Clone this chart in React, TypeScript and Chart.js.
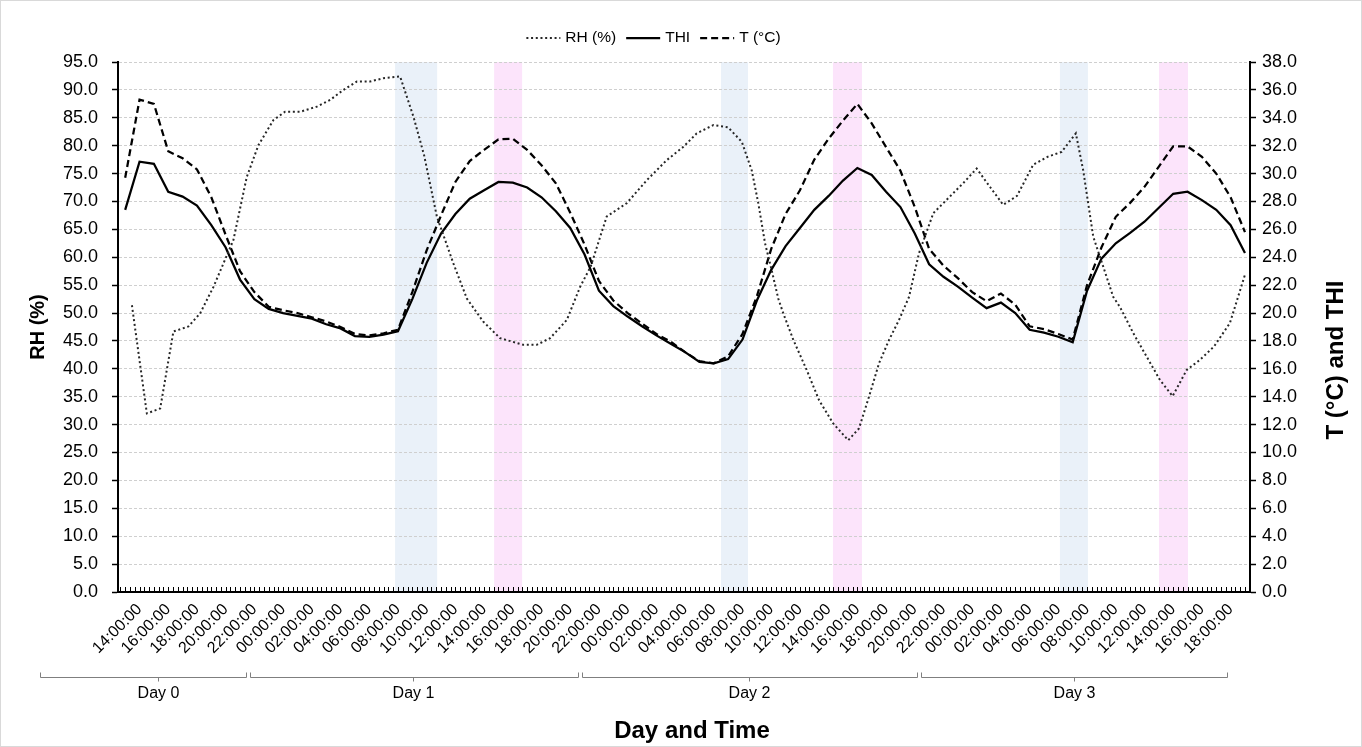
import React, { useEffect, useRef } from 'react';
import { Chart, registerables } from 'chart.js';

Chart.register(...registerables);

const FONT = 'Arial, "Liberation Sans", Helvetica, sans-serif';

// Time is counted in hours from Day 0 00:00
const hours = [
  13, 14, 15, 16, 17, 18, 19, 20, 21, 22, 23, 24, 25, 26, 27, 28, 29, 30, 31, 32,
  33, 34, 35, 36, 37, 38, 39, 40, 41, 42, 43, 44, 45, 46, 47, 48, 49, 50, 51, 52,
  53, 54, 55, 56, 57, 58, 59, 60, 61, 62, 63, 64, 65, 66, 67, 68, 69, 70, 71, 72,
  73, 74, 75, 76, 77, 78, 79, 80, 81, 82, 83, 84, 85, 86, 87, 88, 89, 90, 91,
];

const tValues = [
  29.7, 35.3, 35.0, 31.6, 31.1, 30.3, 28.3, 25.6, 23.0, 21.5,
  20.45, 20.2, 20.0, 19.7, 19.4, 19.0, 18.5, 18.4, 18.55, 18.8,
  21.5, 24.5, 27.0, 29.4, 30.9, 31.7, 32.45, 32.5, 31.7, 30.6,
  29.3, 27.2, 24.9, 22.3, 20.9, 20.0, 19.25, 18.5, 17.95, 17.2,
  16.55, 16.4, 16.9, 18.5, 21.2, 24.6, 27.1, 28.8, 31.0, 32.5,
  33.8, 35.0, 33.6, 31.9, 30.2, 27.6, 24.6, 23.4, 22.5, 21.5,
  20.85, 21.4, 20.6, 19.05, 18.85, 18.5, 18.1, 22.0, 24.7, 26.9,
  27.9, 29.05, 30.5, 31.95, 31.95, 31.2, 30.0, 28.3, 25.8,
];

const thiValues = [
  27.4, 30.85, 30.7, 28.7, 28.35, 27.7, 26.3, 24.7, 22.4, 21.0,
  20.3, 20.0, 19.8, 19.6, 19.2, 18.9, 18.35, 18.3, 18.45, 18.7,
  21.0, 23.6, 25.7, 27.1, 28.2, 28.8, 29.4, 29.35, 29.0, 28.3,
  27.3, 26.1, 24.2, 21.6, 20.5, 19.75, 19.05, 18.4, 17.8, 17.2,
  16.5, 16.4, 16.7, 18.1, 20.9, 23.1, 24.8, 26.1, 27.4, 28.4,
  29.5, 30.4, 29.9, 28.7, 27.6, 25.7, 23.5, 22.6, 21.9, 21.1,
  20.35, 20.75, 20.0, 18.8, 18.6, 18.3, 17.9, 21.6, 23.9, 25.0,
  25.75, 26.55, 27.55, 28.55, 28.7, 28.1, 27.4, 26.3, 24.3,
];

const rhTimes = [
  13.47, 14.51, 15.44, 16.36, 17.41, 18.22, 19.15, 20.54, 21.47, 22.28,
  23.33, 24.14, 25.22, 26.35, 27.28, 28.2, 29.14, 30.06, 30.99, 32.15,
  33.08, 33.82, 34.71, 35.86, 36.8, 37.93, 39.11, 40.74, 41.67, 42.6,
  43.76, 44.69, 45.42, 46.54, 47.94, 49.33, 50.72, 51.88, 52.81, 53.97,
  54.99, 55.95, 56.64, 57.1, 57.57, 58.03, 58.49, 58.84, 59.54, 60.47,
  61.33, 62.32, 63.37, 64.11, 64.81, 65.51, 66.21, 66.9, 67.6, 68.29,
  69.29, 70.45, 71.38, 72.31, 73.24, 74.16, 75.12, 76.25, 77.24, 78.23,
  79.22, 79.73, 80.43, 81.13, 81.82, 82.29, 83.22, 84.15, 85.08, 85.96,
  86.94, 87.86, 88.84, 89.95, 90.99,
];

const rhValues = [
  51.4, 32.0, 32.9, 46.7, 47.6, 49.95, 54.7, 63.1, 74.4, 80.1,
  84.6, 86.1, 86.1, 87.0, 88.2, 90.0, 91.5, 91.5, 92.1, 92.4,
  85.2, 78.3, 67.3, 58.9, 52.6, 48.5, 45.5, 44.3, 44.3, 45.5,
  48.75, 54.7, 58.3, 67.3, 69.7, 73.8, 77.4, 79.8, 82.2, 83.7,
  83.3, 80.7, 75.6, 69.7, 62.5, 57.7, 52.6, 49.95, 45.2, 39.8,
  34.4, 30.2, 27.2, 29.3, 35.0, 41.0, 45.2, 48.75, 52.9, 60.7,
  67.9, 70.9, 73.3, 75.9, 72.6, 69.4, 71.0, 76.6, 78.0, 78.9,
  82.2, 75.6, 63.7, 58.3, 52.9, 51.1, 46.4, 42.2, 38.0, 35.1,
  39.8, 41.6, 44.0, 48.2, 56.8,
];

// shaded periods (hours from Day 0 00:00)
const blueBandStarts = [31.8, 54.5, 78.11];
const blueBandEnds = [34.73, 56.38, 80.06];
const pinkBandStarts = [38.7, 62.3, 85.01];
const pinkBandEnds = [40.65, 64.32, 87.03];

// day grouping brackets under the time labels
const dayLabels = ['Day 0', 'Day 1', 'Day 2', 'Day 3'];
const dayStarts = [7.08, 21.71, 44.82, 68.43];
const dayEnds = [21.43, 44.55, 68.15, 89.74];
const dayMids = [15.3, 33.06, 56.45, 79.09];

const xRange = [12.5, 91.35];
const rhAxis = { min: 0, max: 95, step: 5 };
const tAxis = { min: 0, max: 38, step: 2 };

const legendItems = ['RH (%)', 'THI', 'T (°C)'];
const legendDash = [[2, 2.7], [], [7, 4]];

const BLUE = '#EAF1F9';
const PINK = '#FCE4FB';

const chromePlugin = {
  id: 'chrome',
  beforeDraw(chart: any) {
    const { ctx, chartArea: a, scales } = chart;
    const x = scales.x;
    ctx.save();
    ctx.fillStyle = '#ffffff';
    ctx.fillRect(0, 0, chart.width, chart.height);
    const band = (s: number, e: number, color: string) => {
      const x0 = x.getPixelForValue(s);
      const x1 = x.getPixelForValue(e);
      ctx.fillStyle = color;
      ctx.fillRect(x0, a.top, x1 - x0, a.bottom - a.top);
    };
    blueBandStarts.forEach((s, i) => band(s, blueBandEnds[i], BLUE));
    pinkBandStarts.forEach((s, i) => band(s, pinkBandEnds[i], PINK));
    ctx.restore();
  },
  afterDraw(chart: any) {
    const { ctx, chartArea: a, scales } = chart;
    const x = scales.x;
    ctx.save();

    // inward tick marks on the time axis
    ctx.strokeStyle = '#000';
    ctx.lineWidth = 1;
    for (const t of x.ticks) {
      const px = Math.round(x.getPixelForValue(t.value)) + 0.5;
      ctx.beginPath();
      ctx.moveTo(px, a.bottom - 1);
      ctx.lineTo(px, a.bottom - 5);
      ctx.stroke();
    }

    // day brackets
    const BY = 677.5;
    ctx.strokeStyle = '#7f7f7f';
    ctx.lineWidth = 1;
    ctx.fillStyle = '#000';
    ctx.font = `16px ${FONT}`;
    ctx.textAlign = 'center';
    ctx.textBaseline = 'middle';
    dayLabels.forEach((lab, i) => {
      const x0 = Math.round(x.getPixelForValue(dayStarts[i])) + 0.5;
      const x1 = Math.round(x.getPixelForValue(dayEnds[i])) + 0.5;
      const xm = Math.round(x.getPixelForValue(dayMids[i])) + 0.5;
      ctx.beginPath();
      ctx.moveTo(x0, BY - 5);
      ctx.lineTo(x0, BY);
      ctx.lineTo(x1, BY);
      ctx.lineTo(x1, BY - 5);
      ctx.moveTo(xm, BY);
      ctx.lineTo(xm, BY + 4);
      ctx.stroke();
      ctx.fillText(lab, xm, 694);
    });

    // axis titles
    ctx.fillStyle = '#000';
    const cy = (a.top + a.bottom) / 2;
    ctx.font = `bold 20px ${FONT}`;
    ctx.save();
    ctx.translate(38, cy);
    ctx.rotate(-Math.PI / 2);
    ctx.fillText('RH (%)', 0, 0);
    ctx.restore();
    ctx.font = `bold 24px ${FONT}`;
    ctx.save();
    ctx.translate(1336, 360);
    ctx.rotate(-Math.PI / 2);
    ctx.fillText('T (°C) and THI', 0, 0);
    ctx.restore();
    ctx.fillText('Day and Time', 692, 731);

    // legend
    ctx.font = `15.5px ${FONT}`;
    const sampleW = 34;
    const gapIn = 5;
    const gapOut = 10;
    const widths = legendItems.map((t) => ctx.measureText(t).width);
    const total = widths.reduce((s, w) => s + sampleW + gapIn + w, 0) + gapOut * (legendItems.length - 1);
    let lx = 653.5 - total / 2;
    const ly = 38;
    ctx.textAlign = 'left';
    legendItems.forEach((t, i) => {
      ctx.save();
      ctx.strokeStyle = i === 0 ? '#262626' : '#000';
      ctx.lineWidth = i === 0 ? 2 : 2.25;
      ctx.setLineDash(legendDash[i]);
      ctx.beginPath();
      ctx.moveTo(lx, ly);
      ctx.lineTo(lx + sampleW, ly);
      ctx.stroke();
      ctx.restore();
      ctx.fillText(t, lx + sampleW + gapIn, ly);
      lx += sampleW + gapIn + widths[i] + gapOut;
    });

    // outer frame
    ctx.strokeStyle = '#d9d9d9';
    ctx.lineWidth = 1;
    ctx.strokeRect(0.5, 0.5, chart.width - 1, chart.height - 1);
    ctx.restore();
  },
};

function fmtHour(v: number): string {
  const r = Math.round(v);
  if (Math.abs(v - r) > 1e-6 || r % 2 !== 0) return '';
  const hh = ((r % 24) + 24) % 24;
  return String(hh).padStart(2, '0') + ':00:00';
}

export default function App() {
  const ref = useRef<HTMLCanvasElement | null>(null);

  useEffect(() => {
    if (!ref.current) return;
    const tickFont = { family: FONT, size: 18 };
    const chart = new Chart(ref.current, {
      type: 'line',
      data: {
        datasets: [
          {
            label: 'RH (%)',
            data: rhTimes.map((t, i) => ({ x: t, y: rhValues[i] })),
            yAxisID: 'y',
            borderColor: '#262626',
            borderWidth: 2,
            borderDash: [2, 2.7],
            pointRadius: 0,
            tension: 0,
            fill: false,
          },
          {
            label: 'THI',
            data: hours.map((h, i) => ({ x: h, y: thiValues[i] })),
            yAxisID: 'y1',
            borderColor: '#000',
            borderWidth: 2.25,
            pointRadius: 0,
            tension: 0,
            fill: false,
          },
          {
            label: 'T (°C)',
            data: hours.map((h, i) => ({ x: h, y: tValues[i] })),
            yAxisID: 'y1',
            borderColor: '#000',
            borderWidth: 2.25,
            borderDash: [7, 4],
            pointRadius: 0,
            tension: 0,
            fill: false,
          },
        ],
      },
      options: {
        responsive: false,
        animation: false,
        devicePixelRatio: 1,
        layout: { padding: { top: 62, left: 0, right: 0, bottom: 0 } },
        plugins: {
          legend: { display: false },
          tooltip: { enabled: false },
          title: { display: false },
        },
        scales: {
          x: {
            type: 'linear',
            min: xRange[0],
            max: xRange[1],
            afterBuildTicks: (s: any) => {
              const ticks: any[] = [];
              for (let k = Math.ceil(s.min * 3); k <= Math.floor(s.max * 3); k++) {
                ticks.push({ value: k / 3 });
              }
              s.ticks = ticks;
            },
            afterFit: (s: any) => {
              s.height = 155;
            },
            ticks: {
              autoSkip: false,
              minRotation: 45,
              maxRotation: 45,
              padding: 8,
              color: '#000',
              font: { family: FONT, size: 16 },
              callback: (v: any) => fmtHour(Number(v)),
            },
            grid: { drawOnChartArea: false, drawTicks: false },
            border: { display: true, color: '#000', width: 2 },
          },
          y: {
            position: 'left',
            min: rhAxis.min,
            max: rhAxis.max,
            afterFit: (s: any) => {
              s.width = 118;
            },
            ticks: {
              stepSize: rhAxis.step,
              padding: 14,
              color: '#000',
              font: tickFont,
              callback: (v: any) => Number(v).toFixed(1),
            },
            grid: {
              color: '#cfcfcf',
              lineWidth: 1,
              tickColor: '#000',
              tickLength: 6,
              tickWidth: 1.5,
            },
            border: { display: true, color: '#000', width: 2, dash: [3, 2] },
          },
          y1: {
            position: 'right',
            min: tAxis.min,
            max: tAxis.max,
            afterFit: (s: any) => {
              s.width = 112;
            },
            ticks: {
              stepSize: tAxis.step,
              padding: 6,
              color: '#000',
              font: tickFont,
              callback: (v: any) => Number(v).toFixed(1),
            },
            grid: {
              drawOnChartArea: false,
              color: '#000',
              tickColor: '#000',
              tickLength: 6,
              tickWidth: 1.5,
            },
            border: { display: true, color: '#000', width: 2 },
          },
        },
      },
      plugins: [chromePlugin],
    } as any);
    return () => chart.destroy();
  }, []);

  return (
    <div style={{ position: 'fixed', left: 0, top: 0, width: 1362, height: 747, background: '#fff' }}>
      <canvas ref={ref} width={1362} height={747} style={{ display: 'block', width: 1362, height: 747 }} />
    </div>
  );
}
